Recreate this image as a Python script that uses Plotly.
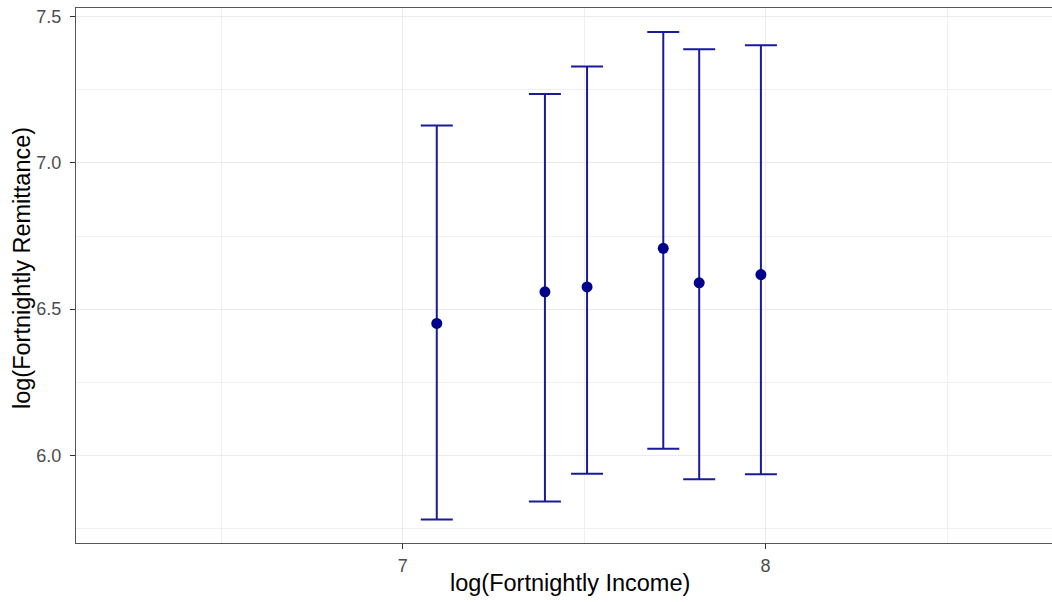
import numpy as np
import plotly.graph_objects as go

# Data
log_income = [7.094, 7.392, 7.508, 7.718, 7.817, 7.987]
log_remit_mean = [6.451, 6.559, 6.576, 6.708, 6.590, 6.618]
log_remit_upper = [7.128, 7.236, 7.330, 7.448, 7.389, 7.403]
log_remit_lower = [5.780, 5.842, 5.937, 6.022, 5.918, 5.935]

x_tick_vals = [7, 8]
x_tick_text = ["7", "8"]
y_tick_vals = [6.0, 6.5, 7.0, 7.5]
y_tick_text = ["6.0", "6.5", "7.0", "7.5"]

x_title = "log(Fortnightly Income)"
y_title = "log(Fortnightly Remittance)"

err_plus = np.array(log_remit_upper) - np.array(log_remit_mean)
err_minus = np.array(log_remit_mean) - np.array(log_remit_lower)

FONT = "Liberation Sans, Arial, Helvetica, sans-serif"

fig = go.Figure()
fig.add_trace(go.Scatter(
    x=log_income,
    y=log_remit_mean,
    mode="markers",
    marker=dict(color="#00008B", size=11),
    error_y=dict(
        type="data",
        symmetric=False,
        array=err_plus,
        arrayminus=err_minus,
        color="#1a1a9c",
        thickness=2,
        width=16,
    ),
    showlegend=False,
))

fig.update_layout(
    width=1052,
    height=602,
    margin=dict(l=76, r=0, t=8, b=59),
    paper_bgcolor="white",
    plot_bgcolor="white",
    font=dict(family=FONT, color="#000000"),
    xaxis=dict(
        automargin=False,
        range=[6.100, 8.789],
        tickvals=x_tick_vals,
        ticktext=x_tick_text,
        showgrid=True,
        gridcolor="#EBEBEB",
        gridwidth=1.3,
        minor=dict(dtick=0.5, tick0=0, showgrid=True, gridcolor="#F0F0F0", gridwidth=1, ticks=""),
        zeroline=False,
        showline=True,
        linecolor="#555555",
        linewidth=1,
        mirror=True,
        ticks="outside",
        ticklen=5,
        tickcolor="#333333",
        tickwidth=1,
        ticklabelstandoff=1,
        tickfont=dict(size=18, color="#4D4D4D", family=FONT),
    ),
    yaxis=dict(
        automargin=False,
        range=[5.700, 7.530],
        tickvals=y_tick_vals,
        ticktext=y_tick_text,
        showgrid=True,
        gridcolor="#EBEBEB",
        gridwidth=1.3,
        minor=dict(dtick=0.25, tick0=0, showgrid=True, gridcolor="#F0F0F0", gridwidth=1, ticks=""),
        zeroline=False,
        showline=True,
        linecolor="#555555",
        linewidth=1,
        mirror=False,
        ticks="outside",
        ticklen=5,
        tickcolor="#333333",
        tickwidth=1,
        ticklabelstandoff=5,
        tickfont=dict(size=18, color="#4D4D4D", family=FONT),
    ),
    annotations=[
        dict(text=x_title, xref="paper", yref="paper", x=(570 - 76) / 976, y=-40 / 535,
             xanchor="center", yanchor="middle", showarrow=False,
             font=dict(size=23.5, color="#000000", family=FONT)),
        dict(text=y_title, xref="paper", yref="paper", x=-54 / 976, y=(543 - 268) / 535,
             xanchor="center", yanchor="middle", textangle=-90, showarrow=False,
             font=dict(size=23.5, color="#000000", family=FONT)),
    ],
)

fig.write_html(
    "out.html",
    config={"displayModeBar": False},
    post_script="document.body.style.margin='0';document.body.style.padding='0';",
)
